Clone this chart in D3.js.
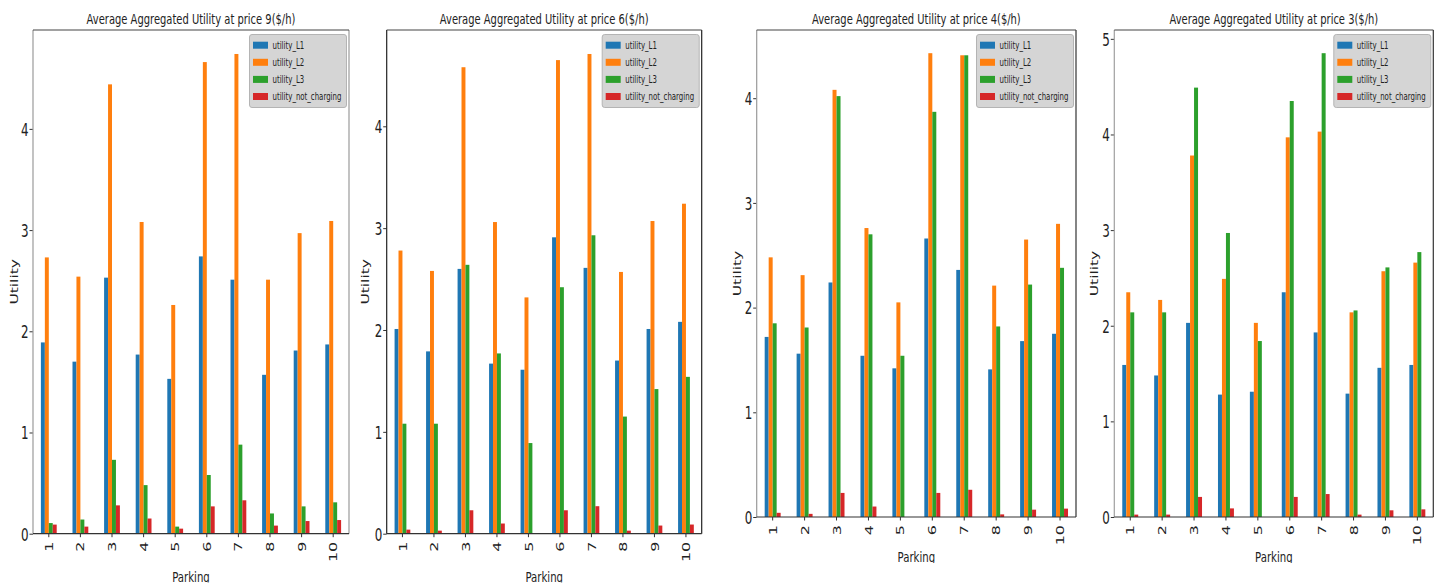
<!DOCTYPE html>
<html>
<head>
<meta charset="utf-8">
<script src="https://cdn.jsdelivr.net/npm/d3@7"></script>
<style>
  body { margin: 0; background: #fff; }
  svg { display: block; }
</style>
</head>
<body>
<svg id="chart" width="1442" height="587"></svg>
<script>
// Parking lots on the x axis and the four utility series
const parkings = ["1", "2", "3", "4", "5", "6", "7", "8", "9", "10"];
const seriesNames = ["utility_L1", "utility_L2", "utility_L3", "utility_not_charging"];
const prices = [9, 6, 4, 3];

// Price 9 $/h
const price9_L1 = [1.89, 1.70, 2.53, 1.77, 1.53, 2.74, 2.51, 1.57, 1.81, 1.87];
const price9_L2 = [2.73, 2.54, 4.44, 3.08, 2.26, 4.66, 4.74, 2.51, 2.97, 3.09];
const price9_L3 = [0.105, 0.14, 0.73, 0.48, 0.07, 0.58, 0.88, 0.20, 0.27, 0.31];
const price9_NC = [0.09, 0.07, 0.28, 0.15, 0.05, 0.27, 0.33, 0.08, 0.125, 0.135];

// Price 6 $/h
const price6_L1 = [2.01, 1.79, 2.60, 1.67, 1.61, 2.91, 2.61, 1.70, 2.01, 2.08];
const price6_L2 = [2.78, 2.58, 4.58, 3.06, 2.32, 4.65, 4.71, 2.57, 3.07, 3.24];
const price6_L3 = [1.08, 1.08, 2.64, 1.77, 0.89, 2.42, 2.93, 1.15, 1.42, 1.54];
const price6_NC = [0.04, 0.03, 0.23, 0.10, 0.0, 0.23, 0.27, 0.03, 0.08, 0.09];

// Price 4 $/h
const price4_L1 = [1.72, 1.56, 2.24, 1.54, 1.42, 2.66, 2.36, 1.41, 1.68, 1.75];
const price4_L2 = [2.48, 2.31, 4.08, 2.76, 2.05, 4.43, 4.41, 2.21, 2.65, 2.80];
const price4_L3 = [1.85, 1.81, 4.02, 2.70, 1.54, 3.87, 4.41, 1.82, 2.22, 2.38];
const price4_NC = [0.04, 0.03, 0.23, 0.10, 0.0, 0.23, 0.26, 0.025, 0.07, 0.08];

// Price 3 $/h
const price3_L1 = [1.59, 1.48, 2.03, 1.28, 1.31, 2.35, 1.93, 1.29, 1.56, 1.59];
const price3_L2 = [2.35, 2.27, 3.78, 2.49, 2.03, 3.97, 4.03, 2.14, 2.57, 2.66];
const price3_L3 = [2.14, 2.14, 4.49, 2.97, 1.84, 4.35, 4.85, 2.16, 2.61, 2.77];
const price3_NC = [0.025, 0.025, 0.21, 0.09, 0.0, 0.21, 0.24, 0.025, 0.07, 0.08];

const panelValues = [
  [price9_L1, price9_L2, price9_L3, price9_NC],
  [price6_L1, price6_L2, price6_L3, price6_NC],
  [price4_L1, price4_L2, price4_L3, price4_NC],
  [price3_L1, price3_L2, price3_L3, price3_NC]
];

// Styling and placement of each subplot
const seriesColors = ["#1f77b4", "#ff7f0e", "#2ca02c", "#d62728"];
const FONT = "'DejaVu Sans', sans-serif";
const SX = 0.7;          // horizontal squeeze of the glyphs
const TITLE_WIDTH = 209; // rendered width of each subplot title
const layouts = [
  { left: 33,    right: 349,    top: 30, bottom: 533.7, clip: 582.5, xlabY: 582, ylabX: 14,   leftSpine: "#9a9a9a", rightSpine: "#9a9a9a" },
  { left: 386.7, right: 701.7,  top: 30, bottom: 533.7, clip: 582.5, xlabY: 582, ylabX: 365.5, leftSpine: "#222",    rightSpine: "#222" },
  { left: 756.7, right: 1076,   top: 30, bottom: 517,   clip: 563,   xlabY: 562, ylabX: 737.5, leftSpine: "#9a9a9a", rightSpine: "#333" },
  { left: 1114.3, right: 1433.3, top: 30, bottom: 517,  clip: 563,   xlabY: 562, ylabX: 1094, leftSpine: "#a0a0a0", rightSpine: "#333" }
];

const svg = d3.select("#chart");
const defs = svg.append("defs");

prices.forEach((price, i) => {
  const L = layouts[i];
  const vals = panelValues[i];
  const maxV = d3.max(vals.flat());

  const y = d3.scaleLinear().domain([0, maxV * 1.05]).range([L.bottom, L.top]);
  const x = d3.scaleBand().domain(parkings).range([L.left, L.right]);
  const bw = x.bandwidth();
  const xs = d3.scaleBand().domain(seriesNames).range([bw * 0.25, bw * 0.75]);

  defs.append("clipPath").attr("id", "panelClip" + i)
    .append("rect")
    .attr("x", L.left - 40).attr("y", 0)
    .attr("width", L.right - L.left + 48).attr("height", L.clip);

  const g = svg.append("g").attr("clip-path", `url(#panelClip${i})`);

  // Grouped bars
  seriesNames.forEach((s, k) => {
    g.append("g")
      .selectAll("rect")
      .data(vals[k])
      .join("rect")
      .attr("x", (d, j) => x(parkings[j]) + xs(s))
      .attr("width", xs.bandwidth())
      .attr("y", d => y(d))
      .attr("height", d => y(0) - y(d))
      .attr("fill", seriesColors[k]);
  });

  // Y axis
  const ya = g.append("g")
    .attr("transform", `translate(${L.left},0)`)
    .call(d3.axisLeft(y).ticks(5).tickFormat(d3.format("d")).tickSize(3.5).tickPadding(0))
    .attr("font-family", FONT).attr("font-size", 17);
  ya.select(".domain").remove();
  ya.selectAll(".tick line").attr("stroke", "#333");
  ya.selectAll(".tick text")
    .attr("x", null).attr("dy", null)
    .attr("fill", "#222")
    .attr("dominant-baseline", "central")
    .attr("transform", `translate(-4.5,0) scale(${SX},1)`);

  // X axis
  const xa = g.append("g")
    .attr("transform", `translate(0,${L.bottom})`)
    .call(d3.axisBottom(x).tickSize(3.5).tickPadding(0))
    .attr("font-family", FONT).attr("font-size", 16);
  xa.select(".domain").remove();
  xa.selectAll(".tick line").attr("stroke", "#333");
  xa.selectAll(".tick text")
    .attr("y", null).attr("dy", null)
    .attr("fill", "#222")
    .attr("text-anchor", "end")
    .attr("dominant-baseline", "central")
    .attr("transform", `translate(0,8) scale(${SX},1) rotate(-90)`);

  // Spines
  const sp = g.append("g").attr("fill", "none").attr("stroke-width", 1.2);
  sp.append("line").attr("x1", L.left).attr("x2", L.left).attr("y1", L.top).attr("y2", L.bottom).attr("stroke", L.leftSpine);
  sp.append("line").attr("x1", L.right).attr("x2", L.right).attr("y1", L.top).attr("y2", L.bottom).attr("stroke", L.rightSpine);
  sp.append("line").attr("x1", L.left).attr("x2", L.right).attr("y1", L.top).attr("y2", L.top).attr("stroke", "#444");
  sp.append("line").attr("x1", L.left).attr("x2", L.right).attr("y1", L.bottom).attr("y2", L.bottom).attr("stroke", "#333");

  // Title, squeezed horizontally to a fixed rendered width
  const title = svg.append("text")
    .attr("text-anchor", "middle")
    .attr("font-family", FONT).attr("font-size", 14.5)
    .attr("fill", "#222")
    .text(`Average Aggregated Utility at price ${price}($/h)`);
  const natural = title.node().getComputedTextLength() || TITLE_WIDTH / 0.68;
  title.attr("transform", `translate(${(L.left + L.right) / 2},24) scale(${TITLE_WIDTH / natural},1)`);

  // Axis titles
  g.append("text")
    .attr("transform", `translate(${L.ylabX},${(L.top + L.bottom) / 2}) scale(${SX},1) rotate(-90)`)
    .attr("text-anchor", "middle").attr("dominant-baseline", "central")
    .attr("font-family", FONT).attr("font-size", 15.5).attr("fill", "#222")
    .text("Utility");

  g.append("text")
    .attr("transform", `translate(${(L.left + L.right) / 2},${L.xlabY}) scale(${SX},1)`)
    .attr("text-anchor", "middle")
    .attr("font-family", FONT).attr("font-size", 14.5).attr("fill", "#222")
    .text("Parking");

  // Legend
  const lg = g.append("g").attr("transform", `translate(${L.right - 99.5},${L.top + 4.5})`);
  lg.append("rect")
    .attr("width", 97).attr("height", 73).attr("rx", 2.5)
    .attr("fill", "#d5d5d5").attr("stroke", "#b4b4b4").attr("stroke-width", 1);
  seriesNames.forEach((s, k) => {
    const cy = 10.7 + k * 17.1;
    lg.append("rect")
      .attr("x", 3.5).attr("y", cy - 3.5).attr("width", 15).attr("height", 7)
      .attr("fill", seriesColors[k]);
    lg.append("text")
      .attr("transform", `translate(23,${cy}) scale(${SX},1)`)
      .attr("dominant-baseline", "central")
      .attr("font-family", FONT).attr("font-size", 10).attr("fill", "#222")
      .text(s);
  });
});
</script>
</body>
</html>
